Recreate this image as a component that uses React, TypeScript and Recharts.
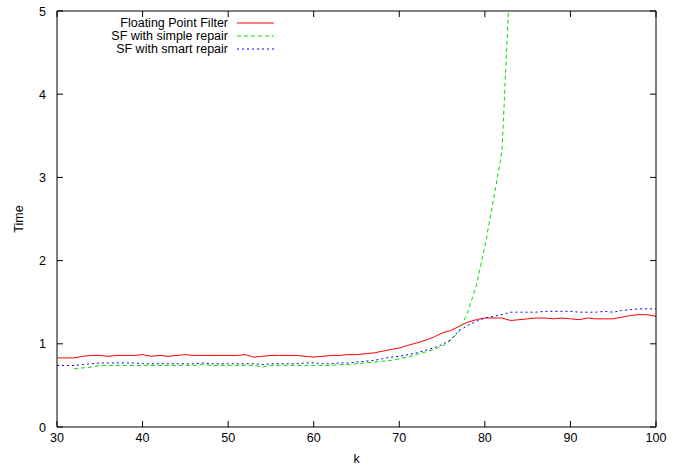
import { LineChart, Line, XAxis, YAxis, Label } from "recharts";

// k runs 30..100 in steps of 1
const kValues = [
  30, 31, 32, 33, 34, 35, 36, 37, 38, 39,
  40, 41, 42, 43, 44, 45, 46, 47, 48, 49,
  50, 51, 52, 53, 54, 55, 56, 57, 58, 59,
  60, 61, 62, 63, 64, 65, 66, 67, 68, 69,
  70, 71, 72, 73, 74, 75, 76, 77, 78, 79,
  80, 81, 82, 83, 84, 85, 86, 87, 88, 89,
  90, 91, 92, 93, 94, 95, 96, 97, 98, 99,
  100,
];

const floatingPoint = [
  0.83, 0.83, 0.83, 0.85, 0.86, 0.86, 0.85, 0.86, 0.86, 0.86,
  0.87, 0.85, 0.86, 0.85, 0.86, 0.87, 0.86, 0.86, 0.86, 0.86,
  0.86, 0.86, 0.87, 0.84, 0.85, 0.86, 0.86, 0.86, 0.86, 0.85,
  0.84, 0.85, 0.86, 0.86, 0.87, 0.87, 0.88, 0.89, 0.91, 0.93,
  0.95, 0.98, 1.01, 1.04, 1.08, 1.13, 1.16, 1.21, 1.26, 1.29,
  1.31, 1.31, 1.31, 1.28, 1.29, 1.3, 1.31, 1.31, 1.3, 1.31,
  1.3, 1.29, 1.31, 1.3, 1.3, 1.3, 1.32, 1.34, 1.35, 1.35,
  1.33,
];

// simple repair starts at k = 32 and leaves the plot after k = 83
const simpleStart = 32;
const simpleRepair = [
  0.7, 0.71, 0.72, 0.74, 0.74, 0.74, 0.74, 0.74,
  0.74, 0.74, 0.74, 0.74, 0.74, 0.74, 0.74, 0.75, 0.74, 0.74,
  0.74, 0.74, 0.74, 0.74, 0.72, 0.74, 0.74, 0.74, 0.74, 0.74,
  0.74, 0.74, 0.74, 0.75, 0.75, 0.76, 0.77, 0.78, 0.79, 0.8,
  0.82, 0.84, 0.87, 0.9, 0.93, 0.97, 1.04, 1.15, 1.38, 1.7,
  2.17, 2.73, 3.31, 5.56,
];

const smartRepair = [
  0.74, 0.74, 0.74, 0.75, 0.76, 0.77, 0.77, 0.77, 0.77, 0.77,
  0.76, 0.76, 0.76, 0.76, 0.76, 0.76, 0.76, 0.77, 0.76, 0.76,
  0.76, 0.76, 0.76, 0.76, 0.75, 0.76, 0.76, 0.76, 0.76, 0.77,
  0.77, 0.76, 0.76, 0.77, 0.77, 0.78, 0.79, 0.8, 0.82, 0.84,
  0.85, 0.87, 0.89, 0.92, 0.95, 0.99, 1.05, 1.16, 1.22, 1.27,
  1.31, 1.33, 1.35, 1.38, 1.38, 1.38, 1.38, 1.39, 1.39, 1.39,
  1.39, 1.38, 1.38, 1.38, 1.39, 1.38, 1.4, 1.41, 1.42, 1.42,
  1.42,
];

const xTicks = [30, 40, 50, 60, 70, 80, 90, 100];
const yTicks = [0, 1, 2, 3, 4, 5];

const FONT = '"Liberation Sans", Arial, sans-serif';
const RED = "#ff0000";
const GREEN = "#00e000";
const BLUE = "#0000ff";

const rows = kValues.map((k, i) => {
  const j = k - simpleStart;
  return {
    k,
    fp: floatingPoint[i],
    simple: j >= 0 && j < simpleRepair.length ? simpleRepair[j] : null,
    smart: smartRepair[i],
  };
});

const BottomTick = (p: any) => (
  <g>
    <line x1={p.x} x2={p.x} y1={p.y} y2={p.y - 6} stroke="#000" />
    <text x={p.x} y={p.y + 15} textAnchor="middle" fontSize={12.5} fontFamily={FONT} fill="#000">
      {p.payload.value}
    </text>
  </g>
);
const TopTick = (p: any) => <line x1={p.x} x2={p.x} y1={p.y} y2={p.y + 6} stroke="#000" />;
const LeftTick = (p: any) => (
  <g>
    <line x1={p.x} x2={p.x + 6} y1={p.y} y2={p.y} stroke="#000" />
    <text x={p.x - 11} y={p.y + 4.5} textAnchor="end" fontSize={12.5} fontFamily={FONT} fill="#000">
      {p.payload.value}
    </text>
  </g>
);
const RightTick = (p: any) => <line x1={p.x} x2={p.x - 6} y1={p.y} y2={p.y} stroke="#000" />;

const legendItems = [
  { name: "Floating Point Filter", color: RED, dash: undefined },
  { name: "SF with simple repair", color: GREEN, dash: "4 3" },
  { name: "SF with smart repair", color: BLUE, dash: "2 3" },
];

export default function App() {
  return (
    <div style={{ position: "absolute", left: 0, top: 0, width: 683, height: 468, background: "#fff" }}>
      <LineChart width={683} height={468} data={rows} margin={{ top: 0, right: 0, bottom: 0, left: 0 }}>
        <XAxis
          dataKey="k"
          type="number"
          domain={[30, 100]}
          ticks={xTicks}
          interval={0}
          allowDataOverflow
          height={41}
          tickSize={0}
          tickMargin={0}
          tick={BottomTick}
          axisLine={{ stroke: "#000" }}
        >
          <Label
            content={({ viewBox }: any) => (
              <text
                x={viewBox.x + viewBox.width / 2}
                y={463}
                textAnchor="middle"
                fontSize={12.5}
                fontFamily={FONT}
                fill="#000"
              >
                k
              </text>
            )}
          />
        </XAxis>
        <XAxis
          xAxisId="top"
          orientation="top"
          dataKey="k"
          type="number"
          domain={[30, 100]}
          ticks={xTicks}
          interval={0}
          allowDataOverflow
          height={11}
          tickSize={0}
          tickMargin={0}
          tick={TopTick}
          axisLine={{ stroke: "#000" }}
        />
        <YAxis
          type="number"
          domain={[0, 5]}
          ticks={yTicks}
          interval={0}
          allowDataOverflow
          width={57}
          tickSize={0}
          tickMargin={0}
          tick={LeftTick}
          axisLine={{ stroke: "#000" }}
        >
          <Label
            content={({ viewBox }: any) => {
              const cy = viewBox.y + viewBox.height / 2;
              return (
                <text
                  x={19}
                  y={cy}
                  transform={`rotate(-90, 19, ${cy})`}
                  textAnchor="middle"
                  dominantBaseline="central"
                  fontSize={12.5}
                  fontFamily={FONT}
                  fill="#000"
                >
                  Time
                </text>
              );
            }}
          />
        </YAxis>
        <YAxis
          yAxisId="right"
          orientation="right"
          type="number"
          domain={[0, 5]}
          ticks={yTicks}
          interval={0}
          allowDataOverflow
          width={27}
          tickSize={0}
          tickMargin={0}
          tick={RightTick}
          axisLine={{ stroke: "#000" }}
        />
        <Line dataKey="fp" type="linear" stroke={RED} strokeWidth={1} dot={false} isAnimationActive={false} />
        <Line
          dataKey="simple"
          type="linear"
          stroke={GREEN}
          strokeWidth={1}
          strokeDasharray="4 3"
          dot={false}
          isAnimationActive={false}
        />
        <Line
          dataKey="smart"
          type="linear"
          stroke={BLUE}
          strokeWidth={1}
          strokeDasharray="2 3"
          dot={false}
          isAnimationActive={false}
        />
      </LineChart>
      <svg width={300} height={60} style={{ position: "absolute", left: 0, top: 0, pointerEvents: "none" }}>
        {legendItems.map((it, i) => {
          const cy = 23 + i * 13;
          return (
            <g key={it.name}>
              <text x={228} y={cy + 4} textAnchor="end" fontSize={12.5} fontFamily={FONT} fill="#000">
                {it.name}
              </text>
              <line x1={237} x2={274} y1={cy} y2={cy} stroke={it.color} strokeDasharray={it.dash} />
            </g>
          );
        })}
      </svg>
    </div>
  );
}
